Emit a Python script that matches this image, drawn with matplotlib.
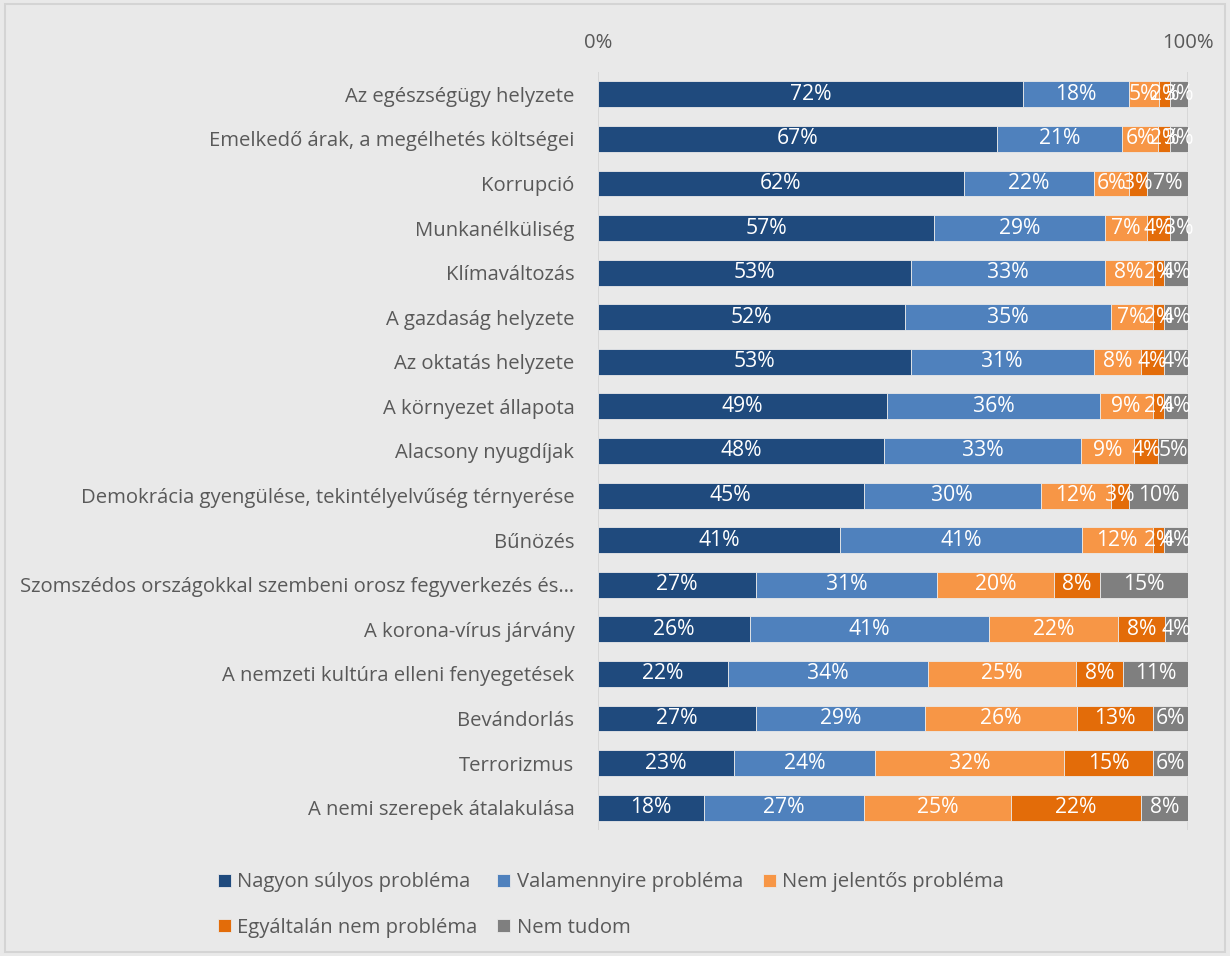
import matplotlib.pyplot as plt
import numpy as np
from matplotlib.patches import Rectangle

plt.rcParams['font.family'] = ['Open Sans', 'DejaVu Sans']

categories = [
    "Az egészségügy helyzete",
    "Emelkedő árak, a megélhetés költségei",
    "Korrupció",
    "Munkanélküliség",
    "Klímaváltozás",
    "A gazdaság helyzete",
    "Az oktatás helyzete",
    "A környezet állapota",
    "Alacsony nyugdíjak",
    "Demokrácia gyengülése, tekintélyelvűség térnyerése",
    "Bűnözés",
    "Szomszédos országokkal szembeni orosz fegyverkezés és…",
    "A korona-vírus járvány",
    "A nemzeti kultúra elleni fenyegetések",
    "Bevándorlás",
    "Terrorizmus",
    "A nemi szerepek átalakulása",
]

nagyon = [72, 67, 62, 57, 53, 52, 53, 49, 48, 45, 41, 27, 26, 22, 27, 23, 18]
valamennyire = [18, 21, 22, 29, 33, 35, 31, 36, 33, 30, 41, 31, 41, 34, 29, 24, 27]
nem_jelentos = [5, 6, 6, 7, 8, 7, 8, 9, 9, 12, 12, 20, 22, 25, 26, 32, 25]
egyaltalan = [2, 2, 3, 4, 2, 2, 4, 2, 4, 3, 2, 8, 8, 8, 13, 15, 22]
nem_tudom = [3, 3, 7, 3, 4, 4, 4, 4, 5, 10, 4, 15, 4, 11, 6, 6, 8]

series_names = ["Nagyon súlyos probléma", "Valamennyire probléma",
                "Nem jelentős probléma", "Egyáltalán nem probléma", "Nem tudom"]
colors = ["#1F4A7D", "#4F81BD", "#F79646", "#E36C09", "#7F7F7F"]

data = np.array([nagyon, valamennyire, nem_jelentos, egyaltalan, nem_tudom], dtype=float)
shares = data / data.sum(axis=0)

bg = "#E9E9E9"
fs = 14.6
fig = plt.figure(figsize=(12.3, 9.56), dpi=100, facecolor=bg)
fig.patches.append(Rectangle((0.004, 0.004), 0.992, 0.992, transform=fig.transFigure,
                             fill=False, edgecolor="#D4D4D4", linewidth=1.5))
ax = fig.add_axes([0.4862, 0.1318, 0.4797, 0.7929])
ax.set_facecolor(bg)

y = np.arange(len(categories))
left = np.zeros(len(categories))
handles = []
for k in range(5):
    h = ax.barh(y, shares[k], left=left, height=0.58, color=colors[k],
                label=series_names[k], edgecolor=bg, linewidth=0.6)
    handles.append(h)
    for i in range(len(categories)):
        ax.text(left[i] + shares[k][i] / 2, y[i], f"{int(data[k][i])}%",
                ha="center", va="center", color="white", fontsize=fs + 0.6)
    left += shares[k]

ax.set_xlim(0, 1)
ax.set_ylim(len(categories) - 0.5, -0.5)
ax.set_xticks([0, 1])
ax.set_xticklabels(["0%", "100%"], color="#595959", fontsize=fs)
ax.xaxis.tick_top()
ax.tick_params(axis="x", length=0, pad=14)
ax.set_yticks(y)
ax.set_yticklabels(categories, color="#595959", fontsize=fs)
ax.tick_params(axis="y", length=0, pad=17)
for s in ax.spines.values():
    s.set_visible(False)
ax.axvline(0, color="#D4D4D4", linewidth=1.2, zorder=0)
ax.axvline(1, color="#D4D4D4", linewidth=1.2, zorder=0)

order = [0, 3, 1, 4, 2]
leg = fig.legend([handles[i] for i in order], [series_names[i] for i in order],
                 loc="lower left", bbox_to_anchor=(0.162, 0.0), ncol=3,
                 frameon=False, fontsize=fs, handlelength=0.65, handleheight=0.65,
                 handletextpad=0.3, columnspacing=1.0, labelspacing=1.25)
for t in leg.get_texts():
    t.set_color("#595959")

fig.savefig("out.png", dpi=100, facecolor=bg)
